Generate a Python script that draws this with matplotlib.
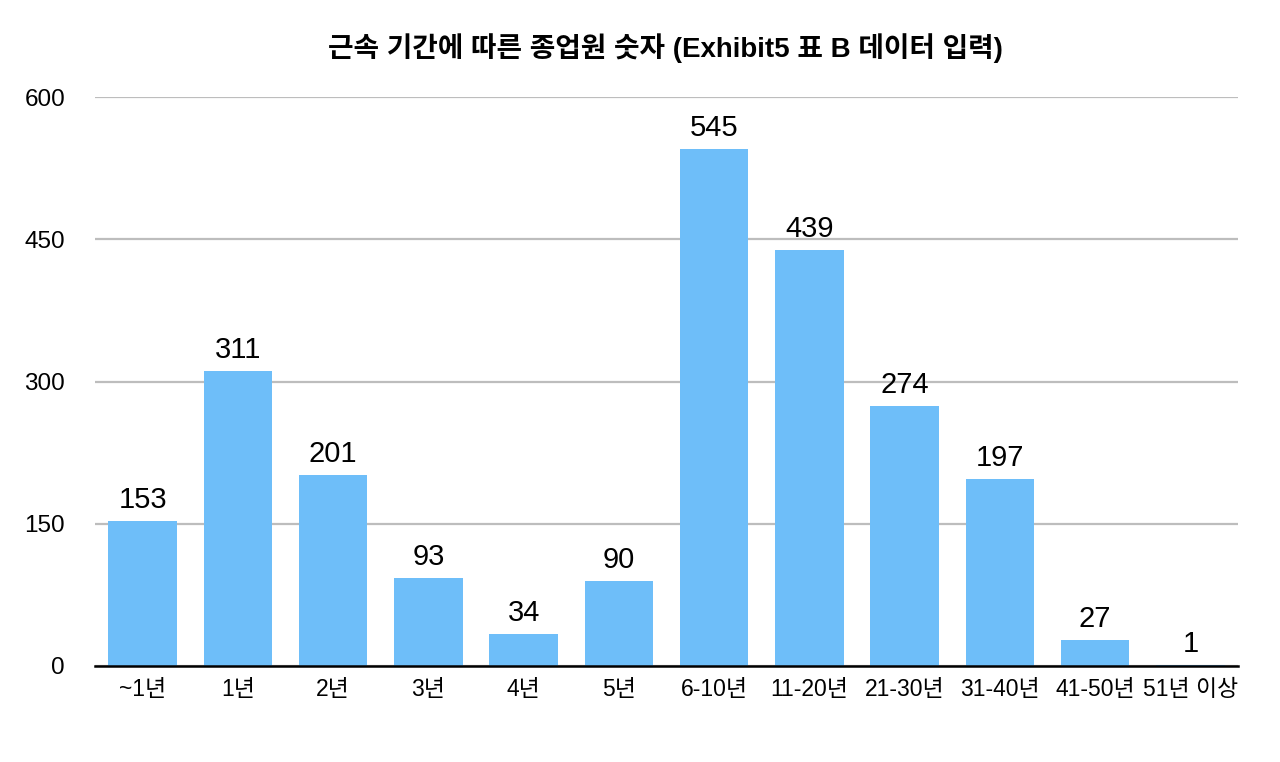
import matplotlib
matplotlib.use("Agg")
import matplotlib.pyplot as plt

categories = ["~1년", "1년", "2년", "3년", "4년", "5년", "6-10년", "11-20년", "21-30년", "31-40년", "41-50년", "51년 이상"]
values = [153, 311, 201, 93, 34, 90, 545, 439, 274, 197, 27, 1]
yticks = [0, 150, 300, 450, 600]
title = "근속 기간에 따른 종업원 숫자 (Exhibit5 표 B 데이터 입력)"

plt.rcParams['font.family'] = ['Liberation Sans', 'Noto Sans CJK KR', 'DejaVu Sans']

fig = plt.figure(figsize=(12.8, 7.62), dpi=100)
ax = fig.add_axes([95/1280, 1-666/762, 1143/1280, (666-97)/762])

x = list(range(len(categories)))
bars = ax.bar(x, values, width=0.72, color="#6EBEF9", zorder=3)
for xi, v in zip(x, values):
    ax.annotate(str(v), (xi, v), xytext=(0, 5), textcoords="offset points",
                ha="center", va="bottom", fontsize=21, color="black", zorder=4)

ax.set_xlim(-0.5, len(categories) - 0.5)
ax.set_ylim(0, 600)
ax.set_yticks(yticks)
ax.set_yticklabels([str(t) for t in yticks], fontsize=17.5)
ax.set_xticks(x)
ax.set_xticklabels(categories, fontsize=16.5)
ax.tick_params(axis='y', length=0, pad=21.6)
ax.tick_params(axis='x', length=0, pad=9)
ax.grid(axis='y', color="#BDBDBD", linewidth=1.6, zorder=0)
for s in ["top", "right", "left"]:
    ax.spines[s].set_visible(False)
ax.spines["bottom"].set_color("black")
ax.spines["bottom"].set_linewidth(1.8)
ax.spines["bottom"].set_zorder(5)

fig.text(665/1280, 1-48/762, title, ha="center", va="center", fontsize=20, fontweight="bold")

fig.savefig("out.png", dpi=100, facecolor="white")
